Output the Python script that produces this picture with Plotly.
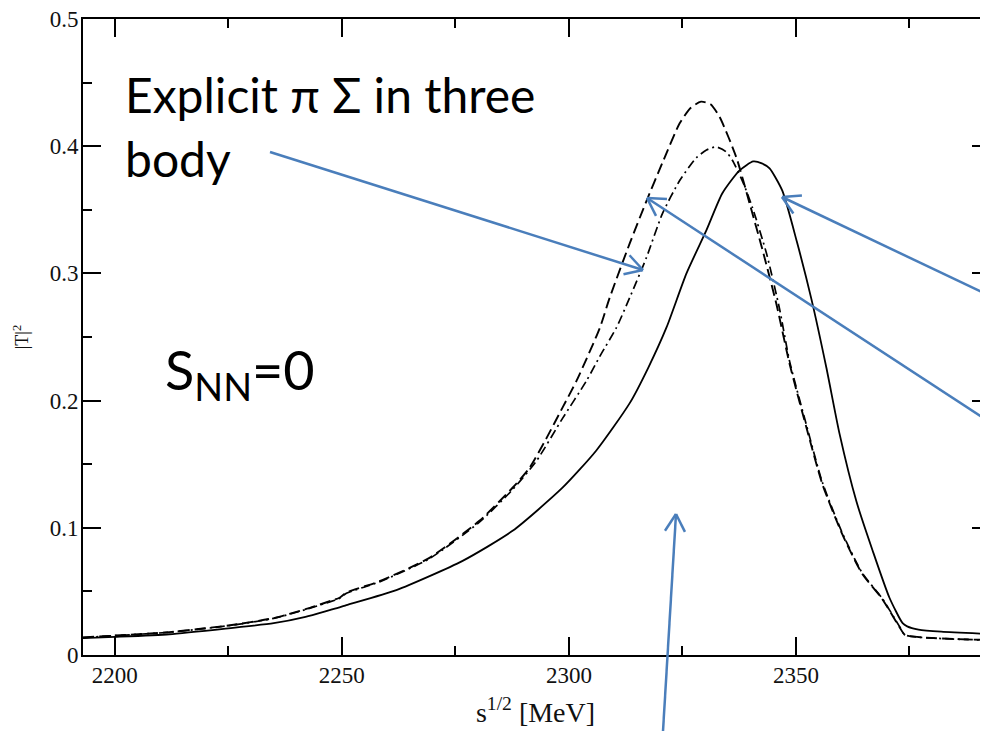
import math
import plotly.graph_objects as go

# ---- data ----
x_solid = [2193, 2200, 2212, 2225, 2235, 2242, 2247.5, 2249.5, 2251, 2262, 2276.6, 2287.6,
           2298.6, 2306, 2313.4, 2317.5, 2321.5, 2325.9, 2330.3, 2333.8, 2337.6, 2340.6,
           2342.5, 2344.2, 2347, 2350.2, 2353.4, 2356.7, 2359.6, 2363.3, 2366.9, 2370.6,
           2373.5, 2374.5, 2377, 2382, 2392.3]
y_solid = [0.0132, 0.0142, 0.0163, 0.0210, 0.0250, 0.0300, 0.0355, 0.0375, 0.0392, 0.051,
           0.074, 0.0976, 0.1315, 0.1606, 0.198, 0.226, 0.2575, 0.300, 0.334, 0.363, 0.381,
           0.388, 0.3865, 0.3825, 0.365, 0.325, 0.280, 0.226, 0.174, 0.121, 0.082, 0.045,
           0.025, 0.0225, 0.0200, 0.0183, 0.0165]

x_dash = [2193, 2200, 2212, 2225, 2235, 2242, 2247.5, 2249.5, 2251, 2258.3, 2269.3, 2280.3,
          2287.6, 2291.3, 2295, 2298.6, 2301.7, 2306.8, 2309, 2313.4, 2317.1, 2320.6, 2324.4,
          2326.8, 2329.1, 2331.2, 2333.2, 2336.9, 2339.8, 2342.6, 2345.7, 2348.6, 2352.3,
          2355.8, 2360.2, 2364.6, 2369, 2372.8, 2374, 2378, 2385, 2392.3]
y_dash = [0.0138, 0.0153, 0.0180, 0.0232, 0.029, 0.036, 0.0425, 0.045, 0.049, 0.058, 0.0764,
          0.1055, 0.1315, 0.147, 0.170, 0.1945, 0.2157, 0.257, 0.281, 0.3236, 0.357, 0.387,
          0.418, 0.430, 0.435, 0.433, 0.423, 0.391, 0.355, 0.319, 0.276, 0.229, 0.179, 0.1346,
          0.095, 0.0638, 0.044, 0.022, 0.0158, 0.0138, 0.0126, 0.0118]

x_dashdot = [2193, 2200, 2212, 2225, 2235, 2242, 2247.5, 2249.5, 2251, 2258.3, 2269.3, 2280.3,
             2287.6, 2292.9, 2298.6, 2303.9, 2307, 2310.5, 2313.4, 2317.1, 2320.6, 2324.4,
             2328.1, 2330.3, 2332.4, 2334.5, 2336, 2338.3, 2340.4, 2343.5, 2346.4, 2348.6,
             2352.3, 2355.8, 2360.2, 2364.6, 2369, 2372.8, 2374, 2378, 2385, 2392.3]
y_dashdot = [0.0137, 0.0152, 0.0179, 0.0230, 0.0288, 0.0357, 0.042, 0.0445, 0.0485, 0.0575,
             0.0758, 0.1045, 0.130, 0.1528, 0.186, 0.2157, 0.236, 0.2575, 0.281, 0.3126, 0.347,
             0.373, 0.391, 0.397, 0.3995, 0.396, 0.389, 0.372, 0.352, 0.316, 0.272, 0.231,
             0.181, 0.136, 0.096, 0.0645, 0.0445, 0.0225, 0.0158, 0.0137, 0.0125, 0.0117]

x_ticks = [2200, 2250, 2300, 2350]
y_ticks = [0, 0.1, 0.2, 0.3, 0.4, 0.5]
x_range = [2193, 2392.3]
y_range = [0, 0.5]

# page body has an 8px margin; figure sized so plot area lands at 83..988 x 19..655
OFF = 8
W, H = 988 - OFF, 731 - OFF
ML, MR, MT, MB = 83 - OFF, 0, 19 - OFF, 731 - 655
PW, PH = W - ML - MR, H - MT - MB

fig = go.Figure()
fig.add_trace(go.Scatter(x=x_solid, y=y_solid, mode="lines",
                         line=dict(color="black", width=1.8, shape="spline", smoothing=0.6)))
fig.add_trace(go.Scatter(x=x_dash, y=y_dash, mode="lines",
                         line=dict(color="black", width=1.9, dash="11px,5px",
                                   shape="spline", smoothing=0.6)))
fig.add_trace(go.Scatter(x=x_dashdot, y=y_dashdot, mode="lines",
                         line=dict(color="black", width=1.7, dash="9px,4px,2px,4px",
                                   shape="spline", smoothing=0.6)))
# invisible carrier for right-hand tick axis
fig.add_trace(go.Scatter(x=[None], y=[None], yaxis="y2", showlegend=False, hoverinfo="skip"))

serif = "Liberation Serif, Times New Roman, serif"
tick_font = dict(family=serif, size=23, color="#111")

fig.update_layout(
    width=W, height=H,
    margin=dict(l=ML, r=MR, t=MT, b=MB),
    paper_bgcolor="white", plot_bgcolor="white",
    showlegend=False,
    xaxis=dict(range=x_range, tickvals=x_ticks, ticks="inside", ticklen=18, tickwidth=1.5,
               tickcolor="black", showline=True, linecolor="black", linewidth=1.8,
               mirror="ticks", showgrid=False, zeroline=False, tickfont=tick_font,
               ticklabelstandoff=-2, ticklabeloverflow="allow",
               minor=dict(dtick=25, tick0=2200, ticks="inside", ticklen=9, tickwidth=1.5,
                          tickcolor="black", showgrid=False),
               title=dict(text="s<sup>1/2</sup> [MeV]", standoff=16,
                          font=dict(family=serif, size=28, color="#111"))),
    yaxis=dict(range=y_range, tickvals=y_ticks, ticks="inside", ticklen=18, tickwidth=1.5,
               tickcolor="black", showline=True, linecolor="black", linewidth=1.8,
               showgrid=False, zeroline=False, tickfont=tick_font, ticklabelstandoff=-2,
               ticklabeloverflow="allow",
               minor=dict(dtick=0.05, tick0=0, ticks="inside", ticklen=9, tickwidth=1.5,
                          tickcolor="black", showgrid=False),
               title=dict(text="|T|<sup>2</sup>", standoff=16,
                          font=dict(family=serif, size=18, color="#111"))),
    yaxis2=dict(range=y_range, overlaying="y", side="right", tickvals=y_ticks,
                ticks="inside", ticklen=16, tickwidth=1.5, tickcolor="black",
                showline=False, showgrid=False, zeroline=False, showticklabels=False,
                minor=dict(dtick=0.05, tick0=0, ticks="inside", ticklen=7, tickwidth=1.5,
                           tickcolor="black", showgrid=False)),
)

def px(x, y):
    # window pixel -> paper coordinates
    return (x - OFF - ML) / PW, (H - MB - (y - OFF)) / PH

slide_font = "Lato, Open Sans, sans-serif"
ann = []
for text, xp, yp, size in [("Explicit π Σ in three", 123, 95, 48),
                           ("body", 123, 158, 48),
                           ("S<sub>NN</sub>=0", 163, 373, 54)]:
    xx, yy = px(xp, yp)
    ann.append(dict(text=text, x=xx, y=yy, xref="paper", yref="paper",
                    xanchor="left", yanchor="middle", showarrow=False,
                    font=dict(family=slide_font, size=size, color="black")))
fig.update_layout(annotations=ann)

blue = "#4a7ebb"
arrows = [((270, 152), (643, 270)),
          ((988, 421), (647, 198)),
          ((988, 295), (782, 197)),
          ((663, 731), (676, 514))]
shapes = []
for (x0, y0), (x1, y1) in arrows:
    a0, b0 = px(x0, y0)
    a1, b1 = px(x1, y1)
    shapes.append(dict(type="line", xref="paper", yref="paper", x0=a0, y0=b0, x1=a1, y1=b1,
                       line=dict(color=blue, width=2.5)))
    ang = math.atan2(y0 - y1, x0 - x1)
    for d in (math.radians(30), -math.radians(30)):
        hx = x1 + 20 * math.cos(ang + d)
        hy = y1 + 20 * math.sin(ang + d)
        c0, e0 = px(hx, hy)
        shapes.append(dict(type="line", xref="paper", yref="paper", x0=a1, y0=b1, x1=c0, y1=e0,
                           line=dict(color=blue, width=2.5)))
fig.update_layout(shapes=shapes)

fig.write_html("out.html")
